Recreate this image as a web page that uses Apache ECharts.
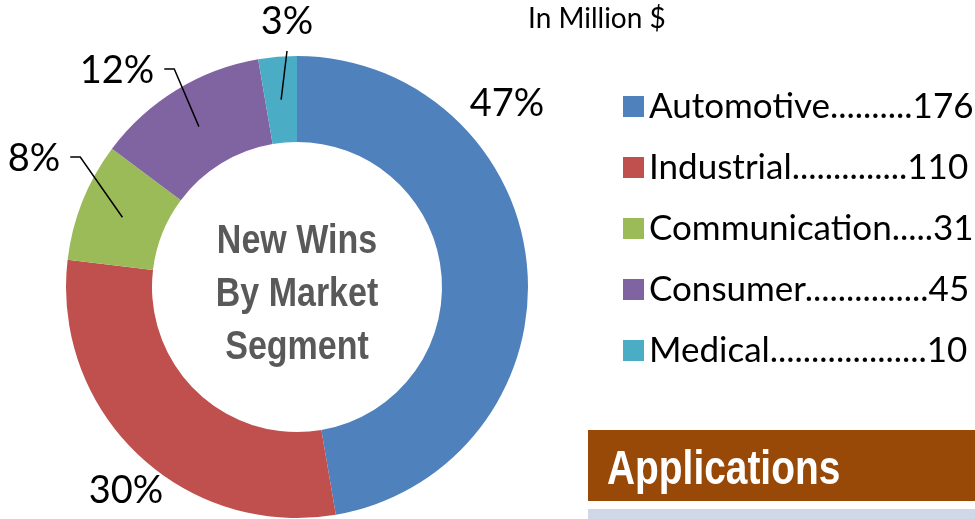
<!DOCTYPE html>
<html>
<head>
<meta charset="utf-8">
<title>New Wins By Market Segment</title>
<script src="https://cdn.jsdelivr.net/npm/echarts@6/dist/echarts.min.js"></script>
<style>
    html, body { margin: 0; padding: 0; background: #fff; }
    #main { width: 975px; height: 519px; }
</style>
</head>
<body>
<div id="main"></div>
<script>
// new wins by market segment, in million $
var segments = ['Automotive', 'Industrial', 'Communication', 'Consumer', 'Medical'];
var wins = [176, 110, 31, 45, 10];
var colors = ['#4F81BD', '#C0504D', '#9BBB59', '#8064A2', '#4BACC6'];

var pieCenter = [297, 287];
var rIn = 145, rOut = 231;

// centres of the % labels
var labelPos = [[507, 104], [126, 491], [34, 159], [117, 71], [287, 22]];
var labelWidths = [];

var legendFont = '35px Lato';
var legendWidth = 325;

// pad "name.....value" with dots so every row ends at the same place
var ctx = document.createElement('canvas').getContext('2d');
ctx.font = legendFont;
var legendText = segments.map(function (name, i) {
    var dots = '';
    while (ctx.measureText(name + dots + '.' + wins[i]).width <= legendWidth) {
        dots += '.';
    }
    return name + dots + wins[i];
});

var pieData = segments.map(function (name, i) {
    return { name: name, value: wins[i], itemStyle: { color: colors[i] } };
});

var myChart = echarts.init(document.getElementById('main'));

var options = {
    animation: false,
    legend: {
        orient: 'vertical',
        left: 618,
        top: 81,
        icon: 'rect',
        itemWidth: 21,
        itemHeight: 21,
        itemGap: 20,
        selectedMode: false,
        data: segments,
        formatter: function (name) {
            return legendText[segments.indexOf(name)];
        },
        textStyle: {
            fontFamily: 'Lato',
            fontSize: 35,
            lineHeight: 41,
            color: '#000'
        }
    },
    graphic: [
        {
            id: 'unit',
            type: 'text',
            left: 528,
            top: 5,
            style: { text: 'In Million $', font: '28px Lato', fill: '#000' }
        },
        {
            id: 'centerTitle',
            type: 'text',
            x: pieCenter[0],
            y: 295,
            scaleX: 0.85,
            style: {
                text: 'New Wins\nBy Market\nSegment',
                align: 'center',
                verticalAlign: 'middle',
                fontFamily: '"Liberation Sans", Arial, sans-serif',
                fontWeight: 'bold',
                fontSize: 40,
                lineHeight: 53,
                fill: '#595959'
            }
        },
        {
            id: 'appBar',
            type: 'rect',
            shape: { x: 588, y: 430, width: 387, height: 71 },
            style: { fill: '#984807' }
        },
        {
            id: 'appText',
            type: 'text',
            x: 607,
            y: 471,
            scaleX: 0.81,
            style: {
                text: 'Applications',
                verticalAlign: 'middle',
                fontFamily: '"Liberation Sans", Arial, sans-serif',
                fontWeight: 'bold',
                fontSize: 48,
                fill: '#fff'
            }
        },
        {
            id: 'appBar2',
            type: 'rect',
            shape: { x: 588, y: 509, width: 387, height: 10 },
            style: { fill: '#D0D8E8' }
        }
    ],
    series: [
        {
            name: 'New Wins',
            type: 'pie',
            center: pieCenter,
            radius: [rIn, rOut],
            startAngle: 90,
            clockwise: true,
            avoidLabelOverlap: false,
            percentPrecision: 0,
            itemStyle: { borderWidth: 0 },
            emphasis: { disabled: true },
            label: {
                show: true,
                position: 'outside',
                formatter: '{d}%',
                fontFamily: 'Lato',
                fontSize: 38,
                color: '#000'
            },
            labelLine: { show: false },
            labelLayout: function (p) {
                var pos = labelPos[p.dataIndex];
                labelWidths[p.dataIndex] = p.labelRect.width;
                return { x: pos[0], y: pos[1], align: 'center', verticalAlign: 'middle' };
            },
            data: pieData
        }
    ]
};

myChart.setOption(options);

// leader lines of the three small slices: from the label into the middle of the ring
var sliceData = myChart.getModel().getSeriesByIndex(0).getData();
var leaders = [];
for (var i = 2; i < segments.length; i++) {
    var lay = sliceData.getItemLayout(i);
    var mid = (lay.startAngle + lay.endAngle) / 2;
    var rm = (lay.r + lay.r0) / 2;
    var inner = [lay.cx + rm * Math.cos(mid), lay.cy + rm * Math.sin(mid)];
    var pos = labelPos[i];
    var pts;
    if (Math.abs(inner[0] - pos[0]) < 30) {
        // label sits straight above its slice
        pts = [[pos[0], pos[1] + 29], inner];
    } else {
        var sx = pos[0] + labelWidths[i] / 2 + 10;
        pts = [[sx, pos[1] - 2], [sx + 10, pos[1] - 2], inner];
    }
    leaders.push({
        id: 'leader' + i,
        type: 'polyline',
        z: 100,
        shape: { points: pts },
        style: { stroke: '#000', lineWidth: 1.5, fill: null }
    });
}
myChart.setOption({ graphic: leaders });
</script>
</body>
</html>
